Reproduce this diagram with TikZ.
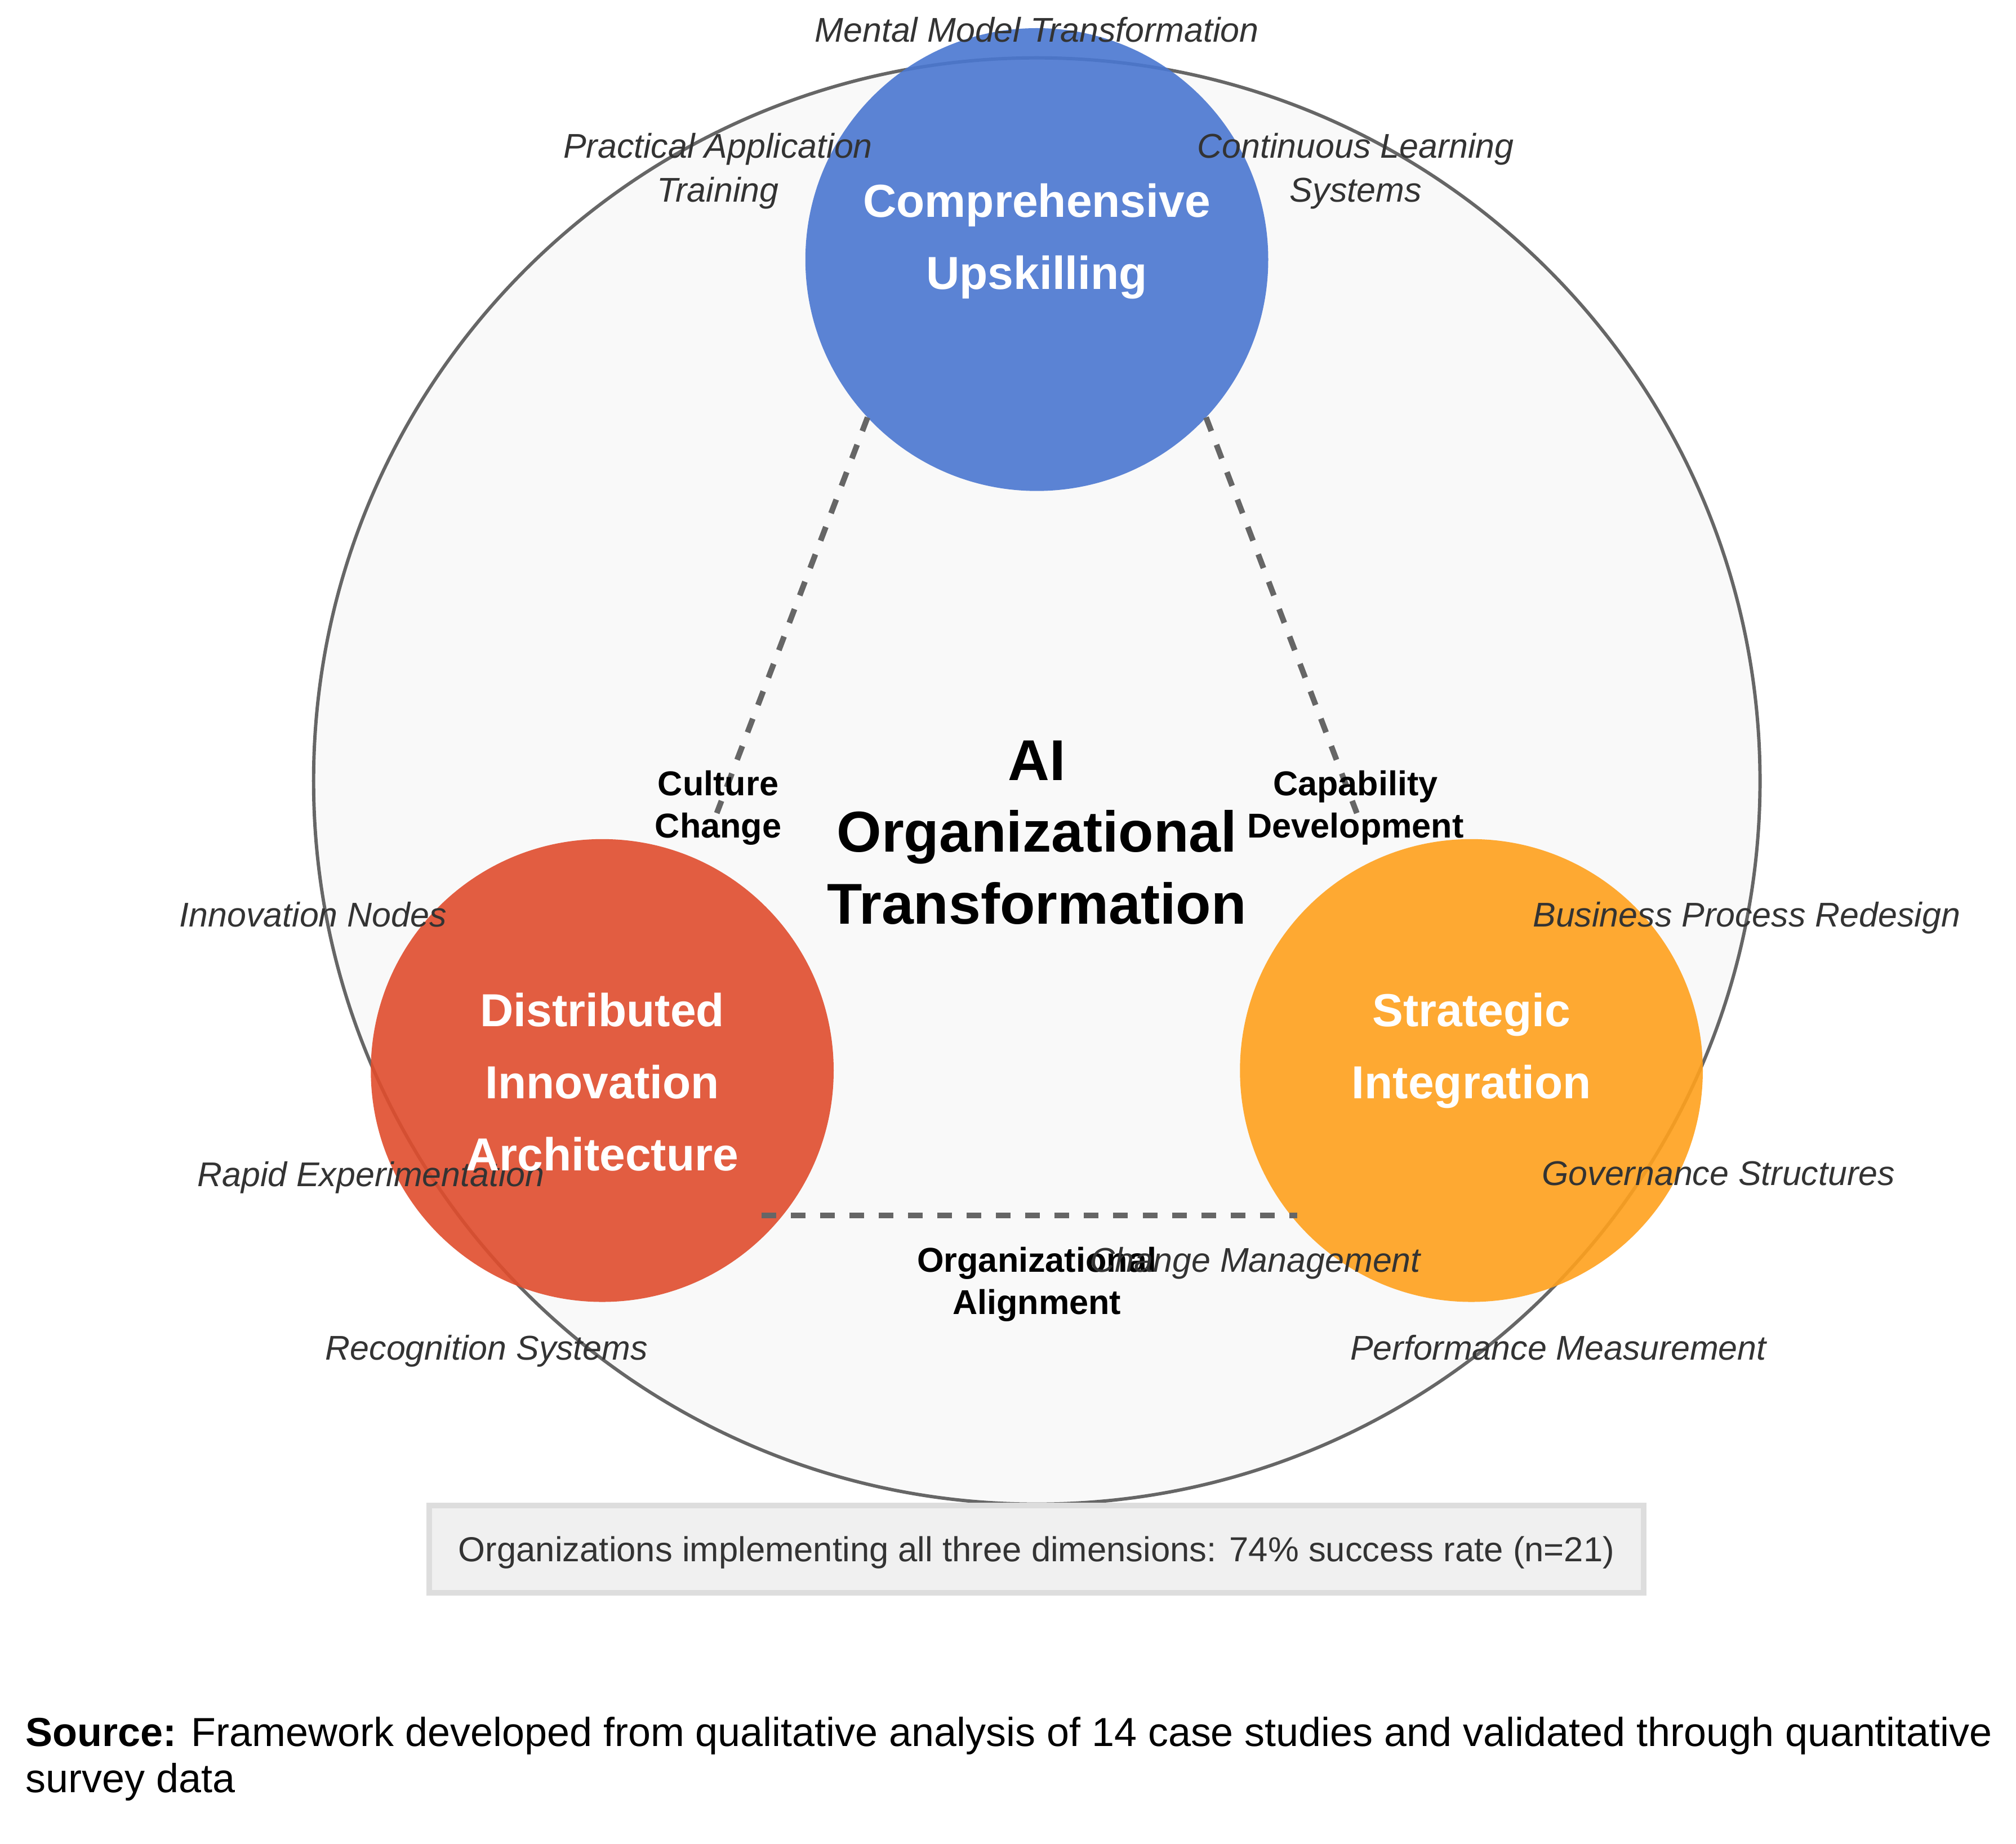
\documentclass[tikz,border=0pt]{standalone}
\usepackage{fontspec}
\setmainfont{Liberation Sans}
\definecolor{bluec}{RGB}{74,119,209}
\definecolor{redc}{RGB}{224,77,45}
\definecolor{orangec}{RGB}{255,161,29}
\definecolor{outerfill}{HTML}{F9F9F9}
\definecolor{outerline}{HTML}{666666}
\definecolor{dashc}{HTML}{666666}
\definecolor{boxfill}{HTML}{F0F0F0}
\definecolor{boxline}{HTML}{DDDDDD}
\definecolor{txt}{HTML}{333333}
\begin{document}
\begin{tikzpicture}[x=0.5pt,y=-0.5pt,
  every node/.style={inner sep=0pt, outer sep=0pt},
  dim/.style={circle, minimum size=180pt, fill opacity=0.9},
  sub/.style={font=\fontsize{13.35pt}{17pt}\selectfont\itshape, text=txt, align=center, anchor=north},
  link/.style={font=\fontsize{13.4pt}{16.5pt}\selectfont\bfseries, text=black, align=center, anchor=north},
  dimlabel/.style={font=\fontsize{18pt}{28pt}\selectfont\bfseries, text=white, align=center, anchor=north},
  conn/.style={draw=dashc, line width=2.2pt, dash pattern=on 5.7pt off 5.7pt},
]
\useasboundingbox (0,0) rectangle (1568,1434);
\fill[white] (0,0) rectangle (1568,1434);

% outer frame circle
\node[circle, draw=outerline, fill=outerfill, line width=1.3pt, minimum size=562.5pt] (outer) at (806.4,607.5) {};

% three dimension circles
\node[dim, fill=bluec] (up) at (806.4,201.9) {};
\node[dim, fill=redc] (di) at (468.4,832.7) {};
\node[dim, fill=orangec] (si) at (1144.4,832.7) {};

% connectors
\coordinate (cc) at (557.5,632.5);
\coordinate (cd) at (1055.3,632.5);
\coordinate (oa1) at (592.3,945.5);
\coordinate (oa2) at (1009,945.5);
\draw[conn] (up.223) -- (cc);
\draw[conn] (up.317) -- (cd);
\draw[conn] (oa1) -- (oa2);

% italic sub-labels
\node[sub] (mmt) at (806.4,13.4) {Mental Model Transformation};
\node[sub] (pat) at (558.4,103.6) {Practical Application\\Training};
\node[sub] (cls) at (1054.4,103.6) {Continuous Learning\\Systems};
\node[sub] (inn) at (243.5,701.4) {Innovation Nodes};
\node[sub] (bpr) at (1358.5,701.4) {Business Process Redesign};
\node[sub] (rex) at (288.5,903.4) {Rapid Experimentation};
\node[sub] (gov) at (1336.5,903.4) {Governance Structures};
\node[sub] (rec) at (378.5,1038.4) {Recognition Systems};
\node[sub] (pm) at (1212,1038.4) {Performance Measurement};

% link labels
\node[link] (cul) at (558.6,599.4) {Culture\\Change};
\node[link] (cap) at (1054.3,599.4) {Capability\\Development};
\node[link] (ali) at (806.4,970) {Organizational\\Alignment};
\node[sub] (chm) at (976.5,970) {Change Management};

% title
\node[font=\fontsize{22.4pt}{28pt}\selectfont\bfseries, align=center, anchor=north] (title) at (806.4,576) {AI\\Organizational\\Transformation};

% dimension labels
\node[dimlabel] (upl) at (806.4,142.9) {Comprehensive\\Upskilling};
\node[dimlabel] (dil) at (468.4,772.3) {Distributed\\Innovation\\Architecture};
\node[dimlabel] (sil) at (1144.4,772.3) {Strategic\\Integration};

% statistic box
\node[draw=boxline, fill=boxfill, line width=2.2pt, minimum width=472.2pt, minimum height=33.8pt, text depth=0pt,
      font=\fontsize{13.5pt}{16pt}\selectfont, text=txt] (stat) at (806.15,1205)
  {Organizations implementing all three dimensions: 74\% success rate (n=21)};

% source
\node[anchor=north west, align=left, font=\fontsize{15.75pt}{18pt}\selectfont, text=black] (src) at (20,1335.6)
  {\textbf{Source:} Framework developed from qualitative analysis of 14 case studies and validated through quantitative\\survey data};
\end{tikzpicture}
\end{document}
